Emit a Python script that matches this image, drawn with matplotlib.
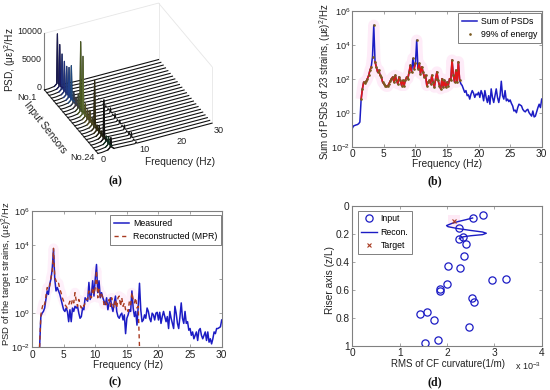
import numpy as np
import matplotlib
matplotlib.use("Agg")
import matplotlib.pyplot as plt

plt.rcParams['font.family'] = ['Liberation Sans', 'DejaVu Sans']
plt.rcParams['mathtext.default'] = 'regular'
plt.rcParams['font.size'] = 7.3

W, H = 550, 390
BLUE = '#1c1cc4'
GREY = '#808080'
TXT = '#222222'

# panel (a)
a_freq = [0, 1, 1.4, 2.6, 3.2, 3.4, 3.6, 4.2, 9.4, 9.8, 10, 10.2, 10.6, 30]
a_peak3 = [9300, 7900, 6700, 5900, 5500, 5800, 6600, 2500, 2000, 3000, 12800, 10700,
           2800, 2200, 2600, 1800, 8900, 1500, 1800, 1400, 7400, 1500, 1800, 2200]
a_peak10 = [50, 50, 60, 60, 80, 80, 100, 100, 150, 200, 300, 300,
            900, 300, 900, 300, 700, 300, 800, 300, 600, 1000, 300, 300]
a_colors = ['#1a1a50', '#1a1a60', '#20307a', '#20307a', '#203a80', '#20408a', '#204a80', '#303a50',
            '#403a40', '#404a30', '#4a5a20', '#5a6a30', '#505020', '#504a20', '#504a20', '#404020',
            '#302a10', '#302a10', '#202010', '#202010', '#101010', '#103020', '#103020', '#101010']

# panel (b), log10 of the PSD, one row per 2 Hz
b_log = [-0.92, -0.78, -0.75, -0.72, -0.70, -0.65, -0.55, 0.80, 1.40, 1.80,
         1.75, 1.85, 2.00, 2.20, 2.50, 2.70, 3.30, 5.15, 3.00, 2.70,
         2.40, 2.50, 2.20, 2.10, 1.80, 1.70, 1.60, 1.55, 1.55, 1.70,
         1.85, 2.00, 2.10, 1.80, 2.20, 1.90, 1.70, 2.10, 1.90, 1.60,
         1.90, 1.60, 1.90, 2.10, 2.00, 2.40, 2.80, 2.40, 3.20, 2.60,
         2.90, 4.27, 2.60, 2.90, 2.30, 2.70, 2.40, 2.10, 2.20, 1.60,
         1.80, 1.90, 1.70, 2.20, 1.80, 1.50, 2.00, 2.40, 1.90, 1.60,
         1.40, 2.00, 1.50, 1.90, 1.50, 1.80, 1.60, 2.00, 1.90, 3.10,
         2.20, 1.80, 2.50, 1.80, 3.00, 1.90, 1.70, 1.60, 1.40, 1.20,
         1.30, 1.00, 1.05, 0.80, 1.10, 1.30, 1.15, 0.90, 1.10, 1.05,
         1.20, 0.90, 1.30, 1.10, 0.70, 1.30, 0.90, 0.60, 1.00, 0.50,
         1.40, 0.90, 0.60, 1.00, 1.40, 0.90, 0.60, 1.00, 1.85, 1.00,
         0.80, 1.30, 0.70, 0.80, 0.65, 0.75, 0.55, 0.40, 0.10, 0.15,
         0.00, 0.30, 0.50, 0.45, 0.40, 0.20, 0.10, 0.05, 0.15, 0.20,
         0.00, -0.10, -0.20, 0.10, -0.25, -0.20, 0.05, 0.30, 0.50, 0.30,
         0.80]
b_energy_first, b_energy_last = 7, 86

# panel (c), log10 of the PSD from 1.2 Hz, one row per 2 Hz
c_measured = [-2.0, -0.2, 0.0, 0.1, 0.3, 0.8, 1.3, 1.1, 1.7, 2.0,
              2.6, 3.75, 2.0, 1.3, 1.5, 1.3, 1.1, 0.8, 0.5, 0.2,
              0.1, 0.3, 0.1, -0.5, 0.2, -0.5, 0.3, 0.1, 0.4, 0.3,
              0.4, 0.0, -0.3, -0.2, 0.3, 0.2, 0.9, 0.8, 0.7, 1.8,
              0.8, 1.1, 1.9, 1.0, 2.0, 2.85, 1.2, 1.9, 0.9, 1.2,
              0.9, 0.7, 0.5, 0.9, 0.2, 0.6, 0.9, 0.4, 0.1, 0.6,
              1.0, 0.1, -0.2, -0.3, -0.1, 0.0, -0.4, -0.1, -1.2, -0.3,
              -0.1, 0.2, 0.1, 1.3, 0.3, -0.2, 0.1, -0.7, 0.4, 1.75,
              0.2, -0.5, -0.4, -0.1, -0.3, 0.3, 0.1, -0.3, -0.5, 0.0,
              -0.1, -0.4, 0.0, 0.05, -0.4, 0.05, -0.6, -0.2, 0.1, -0.2,
              -0.5, -0.2, -0.9, 0.1, -0.3, -0.6, -0.9, 0.4, 0.0, -0.6,
              -0.9, -0.2, 0.6, -0.3, -0.6, 0.1, -0.6, -0.5, -1.0, -0.9,
              -1.3, -1.1, -1.5, -1.3, -1.1, -1.6, -1.0, -0.9, -1.3, -1.5,
              -1.3, -1.1, -1.6, -1.1, -1.7, -1.5, -1.8, -1.5, -1.1, -1.2,
              -0.9, -0.9, -0.85, -0.8, -0.4]
c_recon = [-2.0, -0.1, 0.3, 0.6, 0.5, 1.0, 1.5, 1.4, 1.6, 2.1,
           2.4, 3.8, 2.1, 1.9, 1.7, 1.75, 1.4, 1.2, 0.9, 0.7,
           0.5, 0.4, 0.3, 0.5, 0.7, 0.5, 0.8, 0.6, 1.2, 0.7,
           0.4, 0.8, 0.5, 0.3, 0.5, 0.4, 0.6, 0.8, 0.8, 1.3,
           1.0, 0.9, 1.5, 1.1, 1.5, 2.5, 0.9, 1.4, 0.9, 1.1,
           0.9, 0.5, 0.7, 0.5, 0.6, 0.8, 0.4, 0.9, 0.5, 0.3,
           0.8, 0.3, 0.9, 1.0, 0.4, 0.9, 0.4, 0.6, 0.2, 0.3,
           0.1, 0.7, 0.5, 1.2, 0.8, 0.6, 0.9, 0.3, 0.4, -2.0]

# panel (d)
d_input_x = [2.75, 2.54, 2.25, 2.33, 2.26, 2.40, 2.36, 2.03, 2.28, 3.24, 2.96,
             2.01, 1.85, 1.85, 2.53, 2.58, 1.57, 1.44, 1.73, 2.47, 1.80, 1.53]
d_input_z = [0.067, 0.086, 0.158, 0.224, 0.234, 0.270, 0.360, 0.432, 0.444, 0.525, 0.530,
             0.561, 0.592, 0.609, 0.661, 0.690, 0.759, 0.771, 0.819, 0.866, 0.960, 0.981]
d_recon_x = [2.54, 2.40, 2.25, 2.10, 1.99, 2.02, 2.20, 2.50, 2.75, 2.83, 2.75, 2.50, 2.35, 2.26]
d_recon_z = [0.086, 0.098, 0.110, 0.125, 0.140, 0.148, 0.160, 0.175, 0.186, 0.195, 0.205, 0.213, 0.220, 0.234]
d_target_x = [2.15]
d_target_z = [0.105]


def rect(left, top, right, bottom):
    return [left / W, 1 - bottom / H, (right - left) / W, (bottom - top) / H]


def label(x, y, s, **kw):
    kw.setdefault('ha', 'center')
    kw.setdefault('va', 'center')
    kw.setdefault('color', TXT)
    fig.text(x / W, 1 - y / H, s, **kw)


def style(ax):
    for s in ax.spines.values():
        s.set_color(GREY)
        s.set_linewidth(0.8)
    ax.tick_params(which='both', direction='in', length=2, width=0.5, color=GREY,
                   labelcolor=TXT, pad=2, top=True, right=True)


def legend(ax, loc, anchor):
    leg = ax.legend(loc=loc, bbox_to_anchor=anchor, fancybox=False, framealpha=1,
                    edgecolor=GREY, fontsize=6.3, borderpad=0.4, labelspacing=0.5,
                    handlelength=1.8, handletextpad=0.4, borderaxespad=0)
    leg.get_frame().set_linewidth(0.7)
    return leg


fig = plt.figure(figsize=(W / 100, H / 100), dpi=100)

# (a)
ax = fig.add_axes(rect(5, -38.5, 245, 201.5), projection='3d', proj_type='ortho')
ax.set_axis_off()
ax.patch.set_alpha(0)
ax.view_init(elev=34.2, azim=244.7)
ax.set_box_aspect((125, 124, 67.7), zoom=0.77)
ax.set_xlim(0, 30)
ax.set_ylim(24, 1)
ax.set_zlim(0, 10000)
box = '#e6e6e6'
ax.plot([0, 30, 30], [1, 1, 24], [10000, 10000, 10000], color=box, lw=0.6)
ax.plot([30, 30], [1, 1], [0, 10000], color=box, lw=0.6)
ax.plot([30, 30], [24, 24], [0, 10000], color=box, lw=0.6)
ax.plot([0, 0], [1, 1], [0, 10000], color=GREY, lw=0.8)
ax.plot([0, 0], [1, 24], [0, 0], color='#333333', lw=0.8)
for i in range(24):
    sensor = i + 1
    z = [0, 0, 30, 150, 500, a_peak3[i], 500, 150, 0, 0, a_peak10[i], 0, 0, 0]
    y = [sensor] * len(a_freq)
    ax.plot(a_freq, y, z, color='#111111', lw=0.8, zorder=30 - i)
    ax.plot(a_freq[3:8], y[:5], z[3:8], color=a_colors[i], lw=0.9, zorder=60 - i)

label(10, 60, 'PSD, (με)$^2$/Hz', rotation=90)
label(42, 32, '10000', ha='right', fontsize=6.4)
label(42, 60, '5000', ha='right', fontsize=6.4)
label(42, 88, '0', ha='right', fontsize=6.4)
label(27, 97, 'No.1', fontsize=6.6)
label(45, 128, 'Input Sensors', rotation=-52)
label(82, 157, 'No.24', fontsize=6.6)
label(103, 159, '0', fontsize=6.6)
label(144, 150, '10', fontsize=6.6)
label(182, 141, '20', fontsize=6.6)
label(219, 131, '30', fontsize=6.6)
label(180, 162, 'Frequency (Hz)')

# (b)
freq_b = [i * 0.2 for i in range(len(b_log))]
psd_b = [10.0 ** v for v in b_log]
ax = fig.add_axes(rect(352.3, 10.7, 541.7, 146.7))
en_f = freq_b[b_energy_first:b_energy_last]
en_p = psd_b[b_energy_first:b_energy_last]
# red only on the low part, the spikes stay blue with dots like the reference
en_red = [p if p < 1500 else np.nan for p in en_p]
ax.plot(en_f, en_p, color='#feecf8', lw=8, solid_capstyle='butt', zorder=1)
ax.plot(freq_b, psd_b, color=BLUE, lw=1.1, label='Sum of PSDs', zorder=2)
ax.plot(en_f, en_red, color='#e01818', lw=1.2, zorder=3)
ax.plot(en_f, en_p, ls='none', marker='.', ms=1.8, color='#7a5a20', label='99% of energy', zorder=4)
ax.set_yscale('log')
ax.set_xlim(0, 30)
ax.set_ylim(1e-2, 1e6)
ax.set_xticks(range(0, 31, 5))
ax.set_yticks([1e-2, 1, 1e2, 1e4, 1e6])
ax.minorticks_off()
style(ax)
ax.tick_params(axis='y', labelsize=6.6, pad=1.5)
label(447, 163.5, 'Frequency (Hz)')
label(325, 82, 'Sum of PSDs of 23 strains, (με)$^2$/Hz', rotation=90, fontsize=7.05)
legend(ax, 'upper right', (0.995, 0.98))

# (c)
freq_c = [1.2 + i * 0.2 for i in range(len(c_measured))]
freq_r = [1.2 + i * 0.2 for i in range(len(c_recon))]
ax = fig.add_axes(rect(32, 210.7, 221.7, 347.3))
ax.plot(freq_r[1:-1], [10.0 ** v for v in c_recon[1:-1]], color='#fef0fa', lw=7,
        solid_capstyle='butt', zorder=1)
ax.plot(freq_c, [10.0 ** v for v in c_measured], color=BLUE, lw=1.1, label='Measured', zorder=2)
ax.plot(freq_r, [10.0 ** v for v in c_recon], color='#a83a20', lw=1.0, ls=(0, (3, 2.5)),
        label='Reconstructed (MPR)', zorder=3)
ax.set_yscale('log')
ax.set_xlim(0, 30)
ax.set_ylim(1e-2, 1e6)
ax.set_xticks(range(0, 31, 5))
ax.set_yticks([1e-2, 1, 1e2, 1e4, 1e6])
ax.minorticks_off()
style(ax)
ax.tick_params(axis='y', labelsize=6.6, pad=1.5)
label(128, 364.5, 'Frequency (Hz)')
label(7.5, 274, 'PSD of the target strains, (με)$^2$/Hz', rotation=90, fontsize=6.8)
legend(ax, 'upper right', (0.995, 0.965))

# (d)
ax = fig.add_axes(rect(352.3, 206, 541.7, 345.7))
ax.plot(d_target_x, d_target_z, ls='none', marker='s', ms=8, color='#feeaf6', mew=0, zorder=1)
ax.plot(d_input_x, d_input_z, ls='none', marker='o', ms=5.2, mfc='none', mec=BLUE, mew=0.9, label='Input')
ax.plot(d_recon_x, d_recon_z, color=BLUE, lw=1.0, label='Recon.')
ax.plot(d_target_x, d_target_z, ls='none', marker='x', ms=3.5, mew=0.8, color='#a83a20', label='Target')
ax.set_xlim(0, 4)
ax.set_ylim(1, 0)
ax.set_xticks(range(5))
ax.set_yticks([0, 0.2, 0.4, 0.6, 0.8, 1])
ax.set_yticklabels(['0', '0.2', '0.4', '0.6', '0.8', '1'])
style(ax)
label(448, 364, 'RMS of CF curvature(1/m)', fontsize=7.05)
label(330, 280, 'Riser axis (z/L)', rotation=90)
legend(ax, 'upper left', (0.03, 0.965))
label(528, 366, 'x 10$^{-3}$', fontsize=6.5)

for x, y, s in [(115, 181.5, '(a)'), (435, 181.5, '(b)'), (115, 382, '(c)'), (435, 382, '(d)')]:
    label(x, y, s, family='Liberation Serif', weight='bold', fontsize=8.5, color='#111111')

fig.savefig('out.png', dpi=100)
